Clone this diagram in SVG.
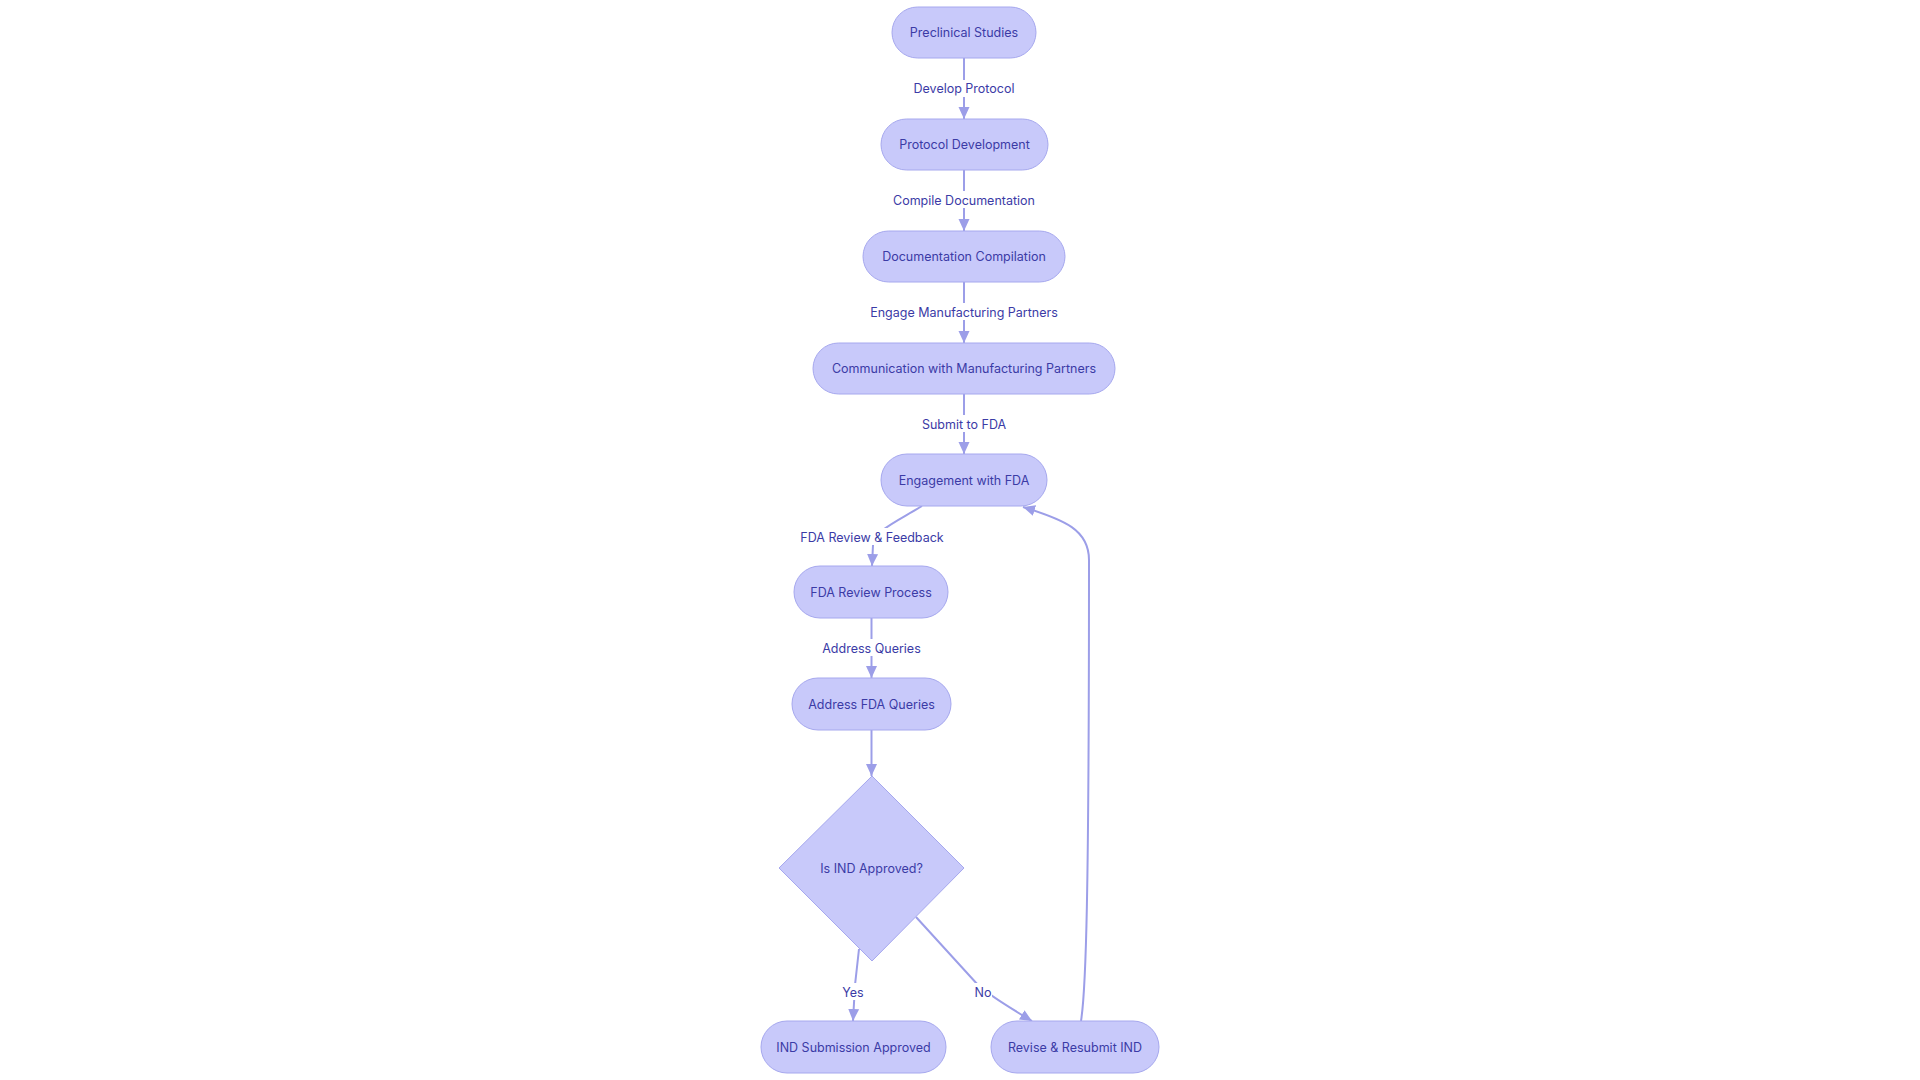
<svg xmlns="http://www.w3.org/2000/svg" width="1920" height="1080" viewBox="0 0 1920 1080">
<style>
.node rect, .node polygon { fill: #C8C9FA; stroke: #A6A8EE; stroke-width: 1; }
.node text, .lbl text { font-family: Inter, "Liberation Sans", sans-serif; font-size: 12.5px; fill: #3B3BA6; text-anchor: middle; dominant-baseline: central; }
.edge { fill: none; stroke: #9C9EE8; stroke-width: 2; }
.lbl rect { fill: #FFFFFF; }
</style>
<defs>
<marker id="arr" viewBox="0 0 12 12" refX="12" refY="6" markerWidth="12" markerHeight="12" markerUnits="userSpaceOnUse" orient="auto">
<path d="M0,0.5 L12,6 L0,11.5 z" fill="#9C9EE8"/>
</marker>
</defs>
<rect width="1920" height="1080" fill="#FFFFFF"/>
<g id="connectors">
<path class="edge" d="M964,58 L964,119" marker-end="url(#arr)"/>
<path class="edge" d="M964,170 L964,231" marker-end="url(#arr)"/>
<path class="edge" d="M964,282 L964,343" marker-end="url(#arr)"/>
<path class="edge" d="M964,394 L964,454" marker-end="url(#arr)"/>
<path class="edge" d="M922,506 C892,524 876,530 873,545 L872,566" marker-end="url(#arr)"/>
<path class="edge" d="M871.5,618 L871.5,678" marker-end="url(#arr)"/>
<path class="edge" d="M871.5,730 L871.5,776" marker-end="url(#arr)"/>
<path class="edge" d="M859,949 L855,985 L853,1021" marker-end="url(#arr)"/>
<path class="edge" d="M916,917 L978,985 Q990,996 1032,1021" marker-end="url(#arr)"/>
<path class="edge" d="M1081,1021 C1086,990 1089,900 1089,560 C1089,530 1065,520 1023,507" marker-end="url(#arr)"/>
<g class="lbl">
<rect x="914" y="80" width="100" height="17"/><text x="964" y="88">Develop Protocol</text>
<rect x="893" y="191" width="142" height="17"/><text x="964" y="200">Compile Documentation</text>
<rect x="871" y="303" width="186" height="17"/><text x="964" y="312">Engage Manufacturing Partners</text>
<rect x="923" y="415" width="82" height="17"/><text x="964" y="424">Submit to FDA</text>
<rect x="804" y="528" width="136" height="17"/><text x="872" y="537">FDA Review &amp; Feedback</text>
<rect x="823" y="639" width="97" height="17"/><text x="871.5" y="648">Address Queries</text>
<rect x="842" y="983" width="22" height="17"/><text x="853" y="992">Yes</text>
<rect x="974" y="983" width="18" height="17"/><text x="983" y="992">No</text>
</g>
</g>
<g id="n1" class="node"><rect x="892" y="7" width="144" height="51" rx="25.5"/><text x="964" y="32.5">Preclinical Studies</text></g>
<g id="n2" class="node"><rect x="881" y="119" width="167" height="51" rx="25.5"/><text x="964.5" y="144.5">Protocol Development</text></g>
<g id="n3" class="node"><rect x="863" y="231" width="202" height="51" rx="25.5"/><text x="964" y="256.5">Documentation Compilation</text></g>
<g id="n4" class="node"><rect x="813" y="343" width="302" height="51" rx="25.5"/><text x="964" y="368.5">Communication with Manufacturing Partners</text></g>
<g id="n5" class="node"><rect x="881" y="454" width="166" height="52" rx="26"/><text x="964" y="480">Engagement with FDA</text></g>
<g id="n6" class="node"><rect x="794" y="566" width="154" height="52" rx="26"/><text x="871" y="592">FDA Review Process</text></g>
<g id="n7" class="node"><rect x="792" y="678" width="159" height="52" rx="26"/><text x="871.5" y="704">Address FDA Queries</text></g>
<g id="n8" class="node"><polygon points="872,776 964,868 872,961 779,868"/><text x="871.5" y="868">Is IND Approved?</text></g>
<g id="n9" class="node"><rect x="761" y="1021" width="185" height="52" rx="26"/><text x="853.5" y="1047">IND Submission Approved</text></g>
<g id="n10" class="node"><rect x="991" y="1021" width="168" height="52" rx="26"/><text x="1075" y="1047">Revise &amp; Resubmit IND</text></g>
</svg>
